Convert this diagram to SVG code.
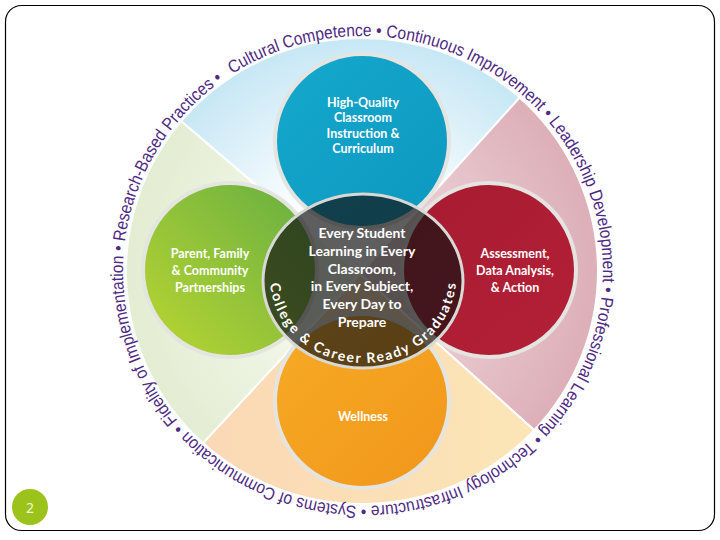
<svg xmlns="http://www.w3.org/2000/svg" width="720" height="540" viewBox="0 0 720 540">
<defs>
<style>
.ring{font-family:"Liberation Sans",Arial,sans-serif;font-size:17.5px;fill:#4e2a84}
.lbl{font-family:Lato,"Open Sans",sans-serif;font-weight:700;fill:#ffffff;text-anchor:middle}
.circ{stroke:#e4e4e0;stroke-width:4}
.sec{stroke:#ffffff;stroke-width:2}
</style>
<radialGradient id="gBlueSec" cx="362" cy="272" r="236" gradientUnits="userSpaceOnUse">
<stop offset="0.35" stop-color="#ffffff"/><stop offset="1" stop-color="#c6e7f5"/>
</radialGradient>
<radialGradient id="gPinkSec" cx="362" cy="272" r="236" gradientUnits="userSpaceOnUse">
<stop offset="0.3" stop-color="#ecd0d5"/><stop offset="1" stop-color="#ddafb8"/>
</radialGradient>
<linearGradient id="gPeachSec" x1="200" y1="0" x2="540" y2="0" gradientUnits="userSpaceOnUse">
<stop offset="0" stop-color="#fbd8b6"/><stop offset="1" stop-color="#fbe6b6"/>
</linearGradient>
<radialGradient id="gGreenSec" cx="362" cy="272" r="236" gradientUnits="userSpaceOnUse">
<stop offset="0.35" stop-color="#f3f7ea"/><stop offset="1" stop-color="#e3edd2"/>
</radialGradient>
<linearGradient id="gBlue" x1="0" y1="0" x2="1" y2="1">
<stop offset="0" stop-color="#15a8cd"/><stop offset="1" stop-color="#0d98c0"/>
</linearGradient>
<linearGradient id="gGreen" x1="1" y1="0" x2="0" y2="1">
<stop offset="0" stop-color="#64ae42"/><stop offset="1" stop-color="#bcd631"/>
</linearGradient>
<linearGradient id="gRed" x1="0" y1="0" x2="1" y2="1">
<stop offset="0" stop-color="#a61b30"/><stop offset="1" stop-color="#b42037"/>
</linearGradient>
<linearGradient id="gOrange" x1="0" y1="0" x2="1" y2="1">
<stop offset="0" stop-color="#f6ab25"/><stop offset="1" stop-color="#f2961b"/>
</linearGradient>
<path id="ringPath" d="M232.3,73.9 A240,235 0 0 1 493.7,468.1 A240,235 0 0 1 232.3,73.9"/>
<path id="innerPath" d="M270,278 A93,85 0 0 0 456,278"/>
</defs>

<rect x="5.5" y="5.5" width="709" height="525" rx="16" fill="#ffffff" stroke="#000000" stroke-width="1.2"/>

<g id="sectors">
<path class="sec" fill="url(#gBlueSec)" d="M360,274 L181.2,121.2 A236,233 0 0 1 519.6,97.6 Z"/>
<path class="sec" fill="url(#gPinkSec)" d="M360,274 L519.6,97.6 A236,233 0 0 1 534.3,430.2 Z"/>
<path class="sec" fill="url(#gPeachSec)" d="M360,274 L534.3,430.2 A236,233 0 0 1 202.9,443.1 Z"/>
<path class="sec" fill="url(#gGreenSec)" d="M360,274 L202.9,443.1 A236,233 0 0 1 181.2,121.2 Z"/>
</g>

<g id="ring-text">
<text class="ring"><textPath href="#ringPath" textLength="1480" lengthAdjust="spacingAndGlyphs">Cultural Competence • Continuous Improvement • Leadership Development • Professional Learning • Technology Infrastructure • Systems of Communication • Fidelity of Implementation • Research-Based Practices •</textPath></text>
</g>

<g id="node-blue">
<circle class="circ" cx="362" cy="141" r="87" fill="url(#gBlue)"/>
</g>
<g id="node-green">
<circle class="circ" cx="230" cy="270" r="87" fill="url(#gGreen)"/>
</g>
<g id="node-red">
<circle class="circ" cx="489" cy="270" r="87" fill="url(#gRed)"/>
</g>
<g id="node-orange">
<circle class="circ" cx="362" cy="401" r="87" fill="url(#gOrange)"/>
</g>

<g id="node-center">
<ellipse cx="363" cy="281" rx="100" ry="87" fill="#111111" fill-opacity="0.68" stroke="#d8d8d4" stroke-width="3"/>
</g>

<g id="labels">
<text class="lbl" font-size="12.5"><tspan x="363" y="106.5">High-Quality</tspan><tspan x="363" y="122">Classroom</tspan><tspan x="363" y="137.5">Instruction &amp;</tspan><tspan x="363" y="153">Curriculum</tspan></text>
<text class="lbl" font-size="12.5"><tspan x="210" y="258">Parent, Family</tspan><tspan x="210" y="275">&amp; Community</tspan><tspan x="210" y="291.5">Partnerships</tspan></text>
<text class="lbl" font-size="12.5"><tspan x="515" y="258">Assessment,</tspan><tspan x="515" y="275">Data Analysis,</tspan><tspan x="515" y="291.5">&amp; Action</tspan></text>
<text class="lbl" font-size="12.5" x="363" y="421">Wellness</text>
<text class="lbl" font-size="14"><tspan x="362" y="238">Every Student</tspan><tspan x="362" y="256">Learning in Every</tspan><tspan x="362" y="273.5">Classroom,</tspan><tspan x="362" y="291">in Every Subject,</tspan><tspan x="362" y="309">Every Day to</tspan><tspan x="362" y="326.5">Prepare</tspan></text>
<text class="lbl" font-size="14"><textPath href="#innerPath" startOffset="50%" textLength="268" lengthAdjust="spacing">College &amp; Career Ready Graduates</textPath></text>
</g>

<g id="slide-number">
<circle cx="30" cy="507" r="18" fill="#9cc31b"/>
<text x="30" y="512.5" font-family="'Noto Sans',sans-serif" font-size="14" fill="#f4f6dc" text-anchor="middle">2</text>
</g>
</svg>
